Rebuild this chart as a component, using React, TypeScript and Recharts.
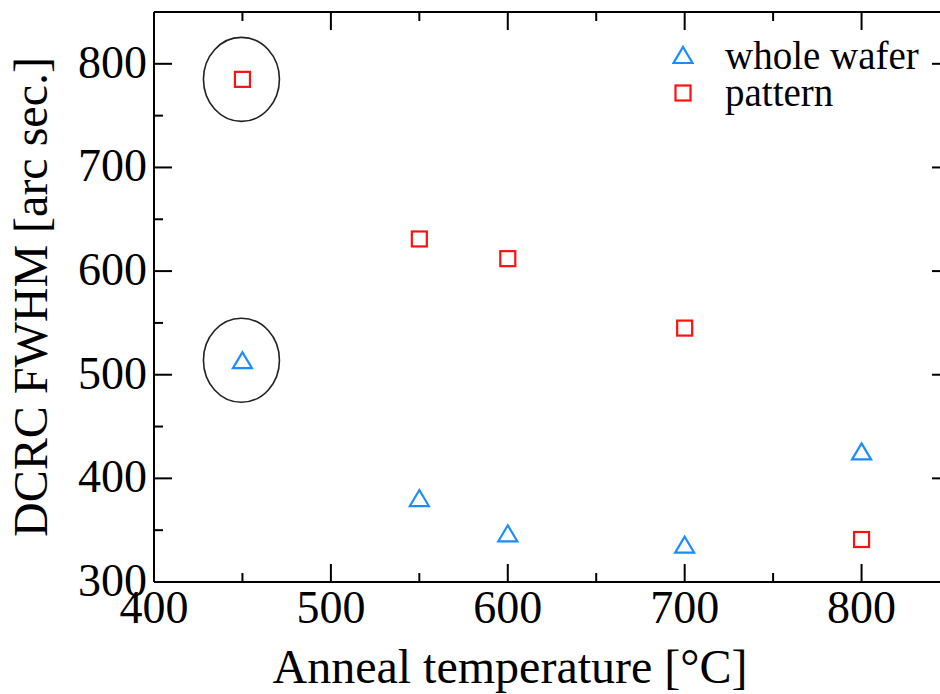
import React from "react";
import { ScatterChart, Scatter, XAxis, YAxis, Legend, ReferenceLine } from "recharts";

const temps = [450, 550, 600, 700, 800];
const wholeWafer = [514, 381, 347, 336, 426];
const pattern = [785, 631, 612, 545, 341];
const xTicks = [400, 450, 500, 550, 600, 650, 700, 750, 800, 850];
const yTicks = [300, 350, 400, 450, 500, 550, 600, 650, 700, 750, 800, 850];

const BLUE = "#1a8cff";
const RED = "#ff1010";
const FONT = "'Liberation Serif', 'Times New Roman', serif";
const Y_MAX = 850;

const waferData = temps.map((t, i) => ({ x: t, y: wholeWafer[i] }));
const patternData = temps.map((t, i) => ({ x: t, y: pattern[i] }));
// circled points at the lowest anneal temperature
const circled = [
  { x: temps[0], y: pattern[0] },
  { x: temps[0], y: wholeWafer[0] },
];

const isMajor = (v: number) => v % 100 === 0;

const BottomTick = ({ x, y, payload }: any) => {
  const len = isMajor(payload.value) ? 18 : 9;
  return (
    <g>
      <line x1={x} x2={x} y1={y} y2={y - len} stroke="#000" strokeWidth={2} />
      {isMajor(payload.value) && (
        <text x={x} y={y + 41} textAnchor="middle" fontSize={46} fontFamily={FONT} fill="#000">
          {payload.value}
        </text>
      )}
    </g>
  );
};

const LeftTick = ({ x, y, payload }: any) => {
  const len = isMajor(payload.value) ? 18 : 9;
  return (
    <g>
      <line x1={x} x2={x + len} y1={y} y2={y} stroke="#000" strokeWidth={2} />
      {isMajor(payload.value) && (
        <text x={x - 7} y={y + 14} textAnchor="end" fontSize={46} fontFamily={FONT} fill="#000">
          {payload.value}
        </text>
      )}
    </g>
  );
};

const RightTick = ({ x, y, payload }: any) => {
  const len = isMajor(payload.value) ? 18 : 9;
  return <line x1={x} x2={x - len} y1={y} y2={y} stroke="#000" strokeWidth={2} />;
};

const Triangle = ({ cx, cy }: any) => (
  <path
    d={`M${cx},${cy - 8} L${cx + 9.5},${cy + 8} L${cx - 9.5},${cy + 8} Z`}
    fill="none"
    stroke={BLUE}
    strokeWidth={2.2}
  />
);

const Square = ({ cx, cy }: any) => (
  <rect x={cx - 7.5} y={cy - 7.5} width={15} height={15} fill="none" stroke={RED} strokeWidth={2.2} />
);

const Ellipse = ({ cx, cy }: any) => (
  <ellipse cx={cx - 1} cy={cy} rx={38} ry={42} fill="none" stroke="#222" strokeWidth={1.6} />
);

const XTitle = ({ viewBox }: any) => (
  <text
    x={viewBox.x + viewBox.width / 2 - 42}
    y={viewBox.y + 101}
    textAnchor="middle"
    fontSize={48}
    fontFamily={FONT}
    fill="#000"
  >
    Anneal temperature [°C]
  </text>
);

const YTitle = ({ viewBox }: any) => {
  const x = viewBox.x + 47;
  const y = viewBox.y + viewBox.height / 2;
  return (
    <text
      x={x}
      y={y}
      transform={`rotate(-90, ${x}, ${y})`}
      textAnchor="middle"
      fontSize={48}
      fontFamily={FONT}
      fill="#000"
    >
      DCRC FWHM [arc sec.]
    </text>
  );
};

const legendItems = [
  { name: "whole wafer", marker: <Triangle cx={11} cy={11} />, top: 6.6 },
  { name: "pattern", marker: <Square cx={11} cy={11} />, top: 8.1 },
];

const LegendBox = () => (
  <div style={{ fontFamily: FONT, fontSize: 39, lineHeight: "37px", color: "#000" }}>
    {legendItems.map((it) => (
      <div key={it.name} style={{ position: "relative", height: 37, whiteSpace: "nowrap" }}>
        <svg width={22} height={22} style={{ position: "absolute", left: 0, top: it.top }}>
          {it.marker}
        </svg>
        <span style={{ position: "absolute", left: 53, top: 0 }}>{it.name}</span>
      </div>
    ))}
  </div>
);

export default function App() {
  return (
    <div style={{ position: "absolute", left: 0, top: 0, width: 940, height: 694, overflow: "hidden", background: "#fff" }}>
      <ScatterChart width={960} height={694} margin={{ top: 11, right: 9, bottom: 0, left: 0 }}>
        <XAxis
          xAxisId="b"
          type="number"
          dataKey="x"
          domain={[400, 850]}
          ticks={xTicks}
          interval={0}
          height={112}
          tickSize={0}
          tickMargin={0}
          tickLine={false}
          tick={<BottomTick />}
          axisLine={{ stroke: "#000", strokeWidth: 2 }}
          allowDataOverflow
          label={<XTitle />}
        />
        <XAxis
          xAxisId="t"
          orientation="top"
          type="number"
          dataKey="x"
          domain={[400, 850]}
          ticks={xTicks}
          interval={0}
          height={1}
          tick={false}
          tickLine={false}
          axisLine={{ stroke: "#000", strokeWidth: 2 }}
          allowDataOverflow
        />
        <YAxis
          yAxisId="l"
          type="number"
          dataKey="y"
          domain={[300, Y_MAX]}
          ticks={yTicks}
          interval={0}
          width={154}
          tickSize={0}
          tickMargin={0}
          tickLine={false}
          tick={<LeftTick />}
          axisLine={{ stroke: "#000", strokeWidth: 2 }}
          allowDataOverflow
          label={<YTitle />}
        />
        <YAxis
          yAxisId="r"
          orientation="right"
          type="number"
          dataKey="y"
          domain={[300, Y_MAX]}
          ticks={yTicks}
          interval={0}
          width={1}
          tickSize={0}
          tickMargin={0}
          tickLine={false}
          tick={<RightTick />}
          axisLine={{ stroke: "#000", strokeWidth: 2 }}
          allowDataOverflow
        />
        {/* inward ticks along the top frame edge */}
        {xTicks.map((v) => (
          <ReferenceLine
            key={`top-${v}`}
            xAxisId="b"
            yAxisId="l"
            segment={[
              { x: v, y: Y_MAX },
              { x: v, y: Y_MAX - (isMajor(v) ? 17.4 : 8.7) },
            ]}
            stroke="#000"
            strokeWidth={2}
            ifOverflow="visible"
          />
        ))}
        <Legend
          layout="vertical"
          align="center"
          verticalAlign="middle"
          content={<LegendBox />}
          wrapperStyle={{ left: 672, top: 37, width: 260, height: 80 }}
        />
        <Scatter xAxisId="b" yAxisId="l" data={circled} shape={<Ellipse />} isAnimationActive={false} legendType="none" />
        <Scatter xAxisId="b" yAxisId="l" name="whole wafer" data={waferData} shape={<Triangle />} isAnimationActive={false} />
        <Scatter xAxisId="b" yAxisId="l" name="pattern" data={patternData} shape={<Square />} isAnimationActive={false} />
      </ScatterChart>
    </div>
  );
}
